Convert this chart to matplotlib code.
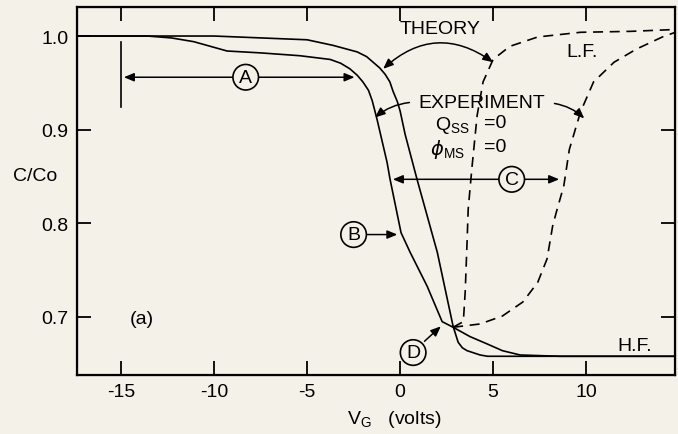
import matplotlib.pyplot as plt
from matplotlib.patches import FancyArrowPatch

plt.rcParams["font.family"] = ["Liberation Sans", "DejaVu Sans"]

BG = "#f4f1e9"

# gate voltage (V) and normalised capacitance read for each curve
theory_hf_v = [-17.4, -10.0, -5.0, -3.6, -2.3, -1.8, -1.45, -1.1, -0.8, -0.55,
               -0.38, -0.15, 0.0, 0.27, 0.91, 2.0, 2.85, 3.12, 3.35, 3.6, 4.3,
               4.7, 14.8]
theory_hf_c = [1.0, 1.0, 0.996, 0.990, 0.983, 0.978, 0.972, 0.966, 0.959, 0.951,
               0.941, 0.930, 0.920, 0.895, 0.847, 0.769, 0.690, 0.673, 0.667,
               0.664, 0.6594, 0.658, 0.658]

expt_hf_v = [-17.4, -13.6, -12.3, -11.1, -9.3, -7.5, -5.4, -3.76, -3.2, -2.7,
             -2.3, -2.0, -1.7, -1.5, -1.24, -0.7, -0.54, 0.05, 0.54, 1.45, 2.26,
             2.85, 3.76, 4.7, 5.5, 6.45, 8.6, 14.8]
expt_hf_c = [1.0, 1.0, 0.998, 0.994, 0.984, 0.982, 0.979, 0.975, 0.971, 0.965,
             0.958, 0.951, 0.942, 0.931, 0.911, 0.865, 0.847, 0.790, 0.769,
             0.733, 0.695, 0.689, 0.679, 0.671, 0.664, 0.6594, 0.658, 0.658]

theory_lf_v = [2.85, 3.4, 3.5, 3.6, 3.66, 3.87, 4.14, 4.46, 5.0, 5.9, 7.4,
               9.7, 12.4, 14.8]
theory_lf_c = [0.689, 0.695, 0.727, 0.780, 0.815, 0.861, 0.915, 0.951, 0.975,
               0.989, 0.999, 1.004, 1.005, 1.007]

expt_lf_v = [2.85, 4.3, 5.5, 6.6, 7.4, 7.9, 8.2, 8.4, 8.8, 9.1, 9.7, 10.4,
             11.5, 12.7, 14.1, 14.8]
expt_lf_c = [0.689, 0.6925, 0.701, 0.716, 0.737, 0.762, 0.797, 0.812, 0.840,
             0.879, 0.919, 0.951, 0.972, 0.986, 0.999, 1.004]

x_ticks = [-15, -10, -5, 0, 5, 10]
y_ticks = [0.7, 0.8, 0.9, 1.0]

fig = plt.figure(figsize=(6.78, 4.35), dpi=100, facecolor=BG)
ax = fig.add_axes([0.1136, 0.1356, 0.882, 0.846], facecolor=BG)

lw = 1.2
dash = (0, (6, 4))
ax.plot(theory_hf_v, theory_hf_c, color="k", lw=lw)
ax.plot(expt_hf_v, expt_hf_c, color="k", lw=lw)
ax.plot(theory_lf_v, theory_lf_c, color="k", lw=lw, ls=dash)
ax.plot(expt_lf_v, expt_lf_c, color="k", lw=lw, ls=dash)

ax.set_xlim(-17.37, 14.78)
ax.set_ylim(0.638, 1.031)
ax.set_xticks(x_ticks)
ax.set_xticklabels([str(t) for t in x_ticks])
ax.set_yticks(y_ticks)
ax.set_yticklabels(["0.7", "0.8", "0.9", "1.0"])
ax.tick_params(direction="in", length=10, width=1.3, labelsize=14, top=True,
               pad=6, colors="k")
for s in ax.spines.values():
    s.set_linewidth(1.6)

# right-hand ticks only at 0.7-0.9
ax2 = ax.twinx()
ax2.set_ylim(ax.get_ylim())
ax2.set_yticks([0.7, 0.8, 0.9])
ax2.tick_params(direction="in", length=10, width=1.3, labelright=False)
ax2.set_facecolor("none")

ax.set_xlabel("V$_\\mathregular{G}$   (volts)", fontsize=14)
ax.xaxis.set_label_coords(0.53, -0.09)
fig.text(0.052, 0.595, "C/Co", fontsize=14, ha="center", va="center")

txt = dict(fontsize=14, color="k")
circ = dict(boxstyle="circle,pad=0.22", fc=BG, ec="k", lw=1.2)
head = dict(arrowstyle="-|>,head_length=0.6,head_width=0.25", color="k", lw=1.1)
both = dict(arrowstyle="<|-|>,head_length=0.6,head_width=0.25", color="k", lw=1.1)

# A: shift of the experimental curve
ax.plot([-15, -15], [0.924, 0.994], color="k", lw=1.2)
ax.annotate("", xy=(-15, 0.956), xytext=(-2.3, 0.956), arrowprops=both)
ax.text(-8.3, 0.956, "A", ha="center", va="center", bbox=circ, zorder=5, **txt)

# B
ax.annotate("", xy=(0.0, 0.788), xytext=(-2.0, 0.788), arrowprops=head)
ax.text(-2.5, 0.788, "B", ha="center", va="center", bbox=circ, zorder=5, **txt)

# C
ax.annotate("", xy=(-0.54, 0.847), xytext=(8.7, 0.847), arrowprops=both)
ax.text(6.0, 0.847, "C", ha="center", va="center", bbox=circ, zorder=5, **txt)

# D
ax.annotate("", xy=(2.3, 0.692), xytext=(1.2, 0.672), arrowprops=head)
ax.text(0.7, 0.662, "D", ha="center", va="center", bbox=circ, zorder=5, **txt)

# THEORY with curved double arrow
ax.text(2.15, 1.008, "THEORY", ha="center", va="center", **txt)
ax.add_patch(FancyArrowPatch((-0.91, 0.965), (5.0, 0.972),
                             connectionstyle="arc3,rad=-0.4",
                             arrowstyle="<|-|>,head_length=6,head_width=2.5",
                             color="k", lw=1.1, shrinkA=0, shrinkB=0))

# EXPERIMENT with two arrows
ax.text(4.4, 0.929, "EXPERIMENT", ha="center", va="center", **txt)
ax.add_patch(FancyArrowPatch((0.5, 0.929), (-1.35, 0.913),
                             connectionstyle="arc3,rad=0.15",
                             arrowstyle="-|>,head_length=6,head_width=2.5",
                             color="k", lw=1.1, shrinkA=0, shrinkB=0))
ax.add_patch(FancyArrowPatch((8.3, 0.928), (9.9, 0.912),
                             connectionstyle="arc3,rad=-0.15",
                             arrowstyle="-|>,head_length=6,head_width=2.5",
                             color="k", lw=1.1, shrinkA=0, shrinkB=0))

ax.text(3.76, 0.906, "Q$_\\mathregular{SS}$", ha="right", va="center", **txt)
ax.text(4.5, 0.908, "=0", ha="left", va="center", **txt)
ax.text(3.5, 0.880, "$\\phi$$_\\mathregular{MS}$", ha="right", va="center", **txt)
ax.text(4.5, 0.882, "=0", ha="left", va="center", **txt)

ax.text(9.8, 0.984, "L.F.", ha="center", va="center", **txt)
ax.text(12.6, 0.669, "H.F.", ha="center", va="center", **txt)
ax.text(-13.9, 0.698, "(a)", ha="center", va="center", **txt)

fig.savefig("out.png", dpi=100, facecolor=BG)
